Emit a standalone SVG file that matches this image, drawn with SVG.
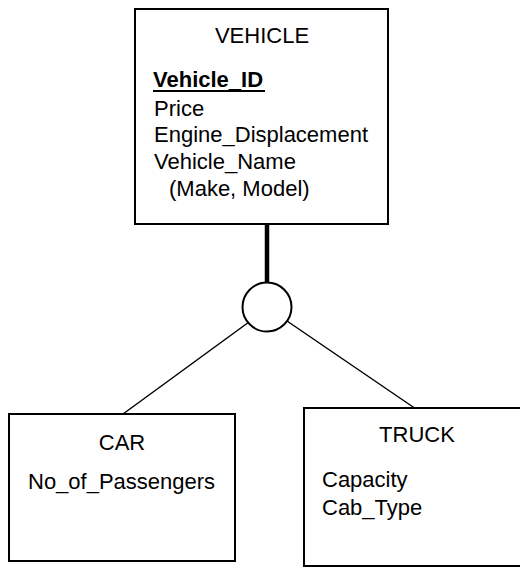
<svg xmlns="http://www.w3.org/2000/svg" width="520" height="570" viewBox="0 0 520 570">
<style>
.box{fill:#fff;stroke:#000;stroke-width:2}
.t{font-family:"Liberation Sans",Arial,sans-serif;font-size:22px;fill:#000}
.c{text-anchor:middle}
.b{font-weight:bold}
.ln{stroke:#000;stroke-width:1.5;fill:none}
</style>
<rect width="520" height="570" fill="#fff"/>
<g id="connectors">
<line x1="267" y1="224" x2="267" y2="283" stroke="#000" stroke-width="4.5"/>
<line class="ln" x1="249" y1="322" x2="123" y2="414"/>
<line class="ln" x1="287" y1="321" x2="416" y2="409"/>
</g>
<g id="disjoint">
<circle cx="267" cy="307" r="24.5" fill="#fff" stroke="#000" stroke-width="2"/>
</g>
<g id="vehicle">
<rect class="box" x="135" y="9" width="253" height="215"/>
<text class="t c" x="262" y="43">VEHICLE</text>
<text class="t b" x="153" y="87">Vehicle_ID</text>
<line x1="153" y1="91" x2="265" y2="91" stroke="#000" stroke-width="2"/>
<text class="t" x="154" y="116">Price</text>
<text class="t" x="154" y="142">Engine_Displacement</text>
<text class="t" x="154" y="169">Vehicle_Name</text>
<text class="t" x="169" y="196">(Make, Model)</text>
</g>
<g id="car">
<rect class="box" x="9" y="414" width="226" height="147"/>
<text class="t c" x="122" y="450">CAR</text>
<text class="t" x="28" y="489">No_of_Passengers</text>
</g>
<g id="truck">
<rect class="box" x="304" y="408" width="230" height="158"/>
<text class="t c" x="417" y="442">TRUCK</text>
<text class="t" x="322" y="487">Capacity</text>
<text class="t" x="322" y="515">Cab_Type</text>
</g>
</svg>
